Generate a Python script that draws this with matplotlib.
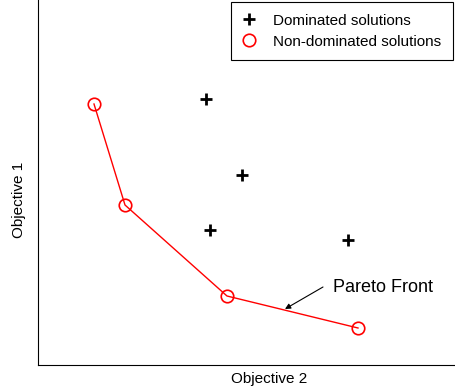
import matplotlib
matplotlib.use('Agg')
import matplotlib.pyplot as plt

plt.rcParams['font.family'] = ['Liberation Sans', 'DejaVu Sans']

# Данные (условные единицы)
front_x = [56, 87, 189, 320]
front_y = [261, 160, 69, 37]
dom_x = [168, 204, 172, 310]
dom_y = [266, 190, 135, 125]

fig = plt.figure(figsize=(4.55, 3.9), dpi=100)
ax = fig.add_axes([38 / 455, 25 / 390, 417 / 455, 365 / 390])

ax.plot(dom_x, dom_y, 'k+', markersize=8, markeredgewidth=2, linestyle='none',
        label='Dominated solutions')
ax.plot(front_x, front_y, 'r-', linewidth=1)
ax.plot(front_x, front_y, 'o', color='red', markerfacecolor='none', markersize=9,
        markeredgewidth=1.2, linestyle='none', label='Non-dominated solutions')

# Подпись фронта Парето со стрелкой
ax.text(295, 77, 'Pareto Front', fontsize=13, ha='left', va='center')
ax.annotate('', xy=(247, 56), xytext=(285, 78),
            arrowprops=dict(arrowstyle='-|>', color='black', lw=0.8,
                            mutation_scale=8, shrinkA=0, shrinkB=0))

ax.set_xlim(0, 417)
ax.set_ylim(0, 365)
ax.set_xticks([])
ax.set_yticks([])
ax.spines['top'].set_visible(False)
ax.spines['right'].set_visible(False)
ax.set_xlabel('Objective 2', fontsize=11)
ax.set_ylabel('Objective 1', fontsize=11, va='center')
ax.xaxis.set_label_coords(0.554, -0.02)
ax.yaxis.set_label_coords(-0.046, 0.452)

leg = ax.legend(loc='upper right', fontsize=11, fancybox=False, framealpha=1,
                edgecolor='black', borderaxespad=0.15, handlelength=0.8,
                handletextpad=1.2, labelspacing=0.45, borderpad=0.75)
leg.get_frame().set_linewidth(0.8)

fig.savefig('out.png', dpi=100)
